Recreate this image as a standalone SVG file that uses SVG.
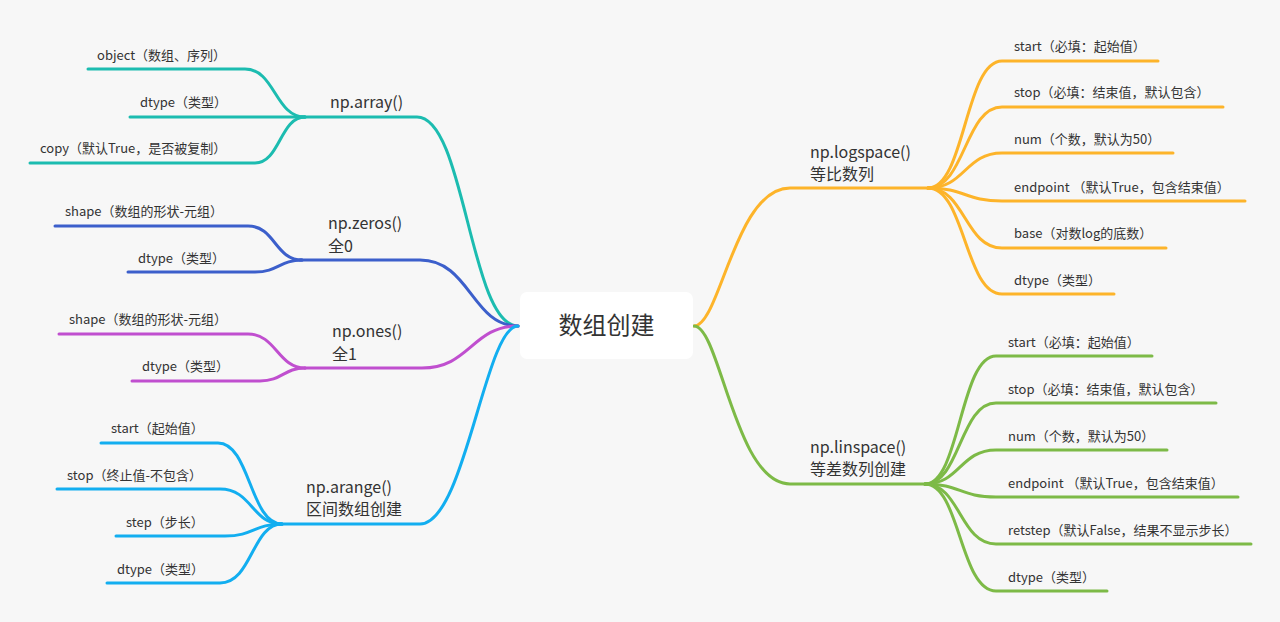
<svg xmlns="http://www.w3.org/2000/svg" width="1280" height="622" viewBox="0 0 1280 622">
<style>
text{font-family:"Noto Sans CJK SC","Noto Sans",sans-serif;fill:#333333}
.c{font-size:13px}
.m{font-size:16px}
.root{font-size:24px}
path{fill:none;stroke-width:3;stroke-linecap:round;stroke-linejoin:round}
.teal{stroke:#1CBCB0}
.blue{stroke:#3C5FCB}
.mag{stroke:#C04FCF}
.sky{stroke:#12AEF0}
.org{stroke:#FDB42A}
.grn{stroke:#7DBA47}
</style>
<rect x="0" y="0" width="1280" height="622" fill="#F7F7F7"/>
<g id="connectors">
<!-- center to main branches -->
<path class="teal" d="M300 117 L417 117 C465 117 470 326 518 326"/>
<path class="blue" d="M300 260 L420 260 C470 260 472 326 518 326"/>
<path class="mag" d="M305 368 L422 368 C470 368 472 326 518 326"/>
<path class="sky" d="M280 524 L420 524 C465 524 485 326 518 326"/>
<path class="org" d="M694 326 C720 326 735 188 790 188 L930 188"/>
<path class="grn" d="M694 326 C720 326 735 484 790 484 L927 484"/>
<!-- np.array children -->
<path class="teal" d="M88 69 L245 69 C275 69 275 117 305 117"/>
<path class="teal" d="M130 117 L305 117"/>
<path class="teal" d="M30 163 L255 163 C280 163 280 117 305 117"/>
<!-- np.zeros children -->
<path class="blue" d="M55 226 L248 226 C275 226 275 260 302 260"/>
<path class="blue" d="M128 272 L255 272 C278 272 280 260 302 260"/>
<!-- np.ones children -->
<path class="mag" d="M59 334 L248 334 C276 334 278 368 305 368"/>
<path class="mag" d="M132 381 L260 381 C282 381 284 368 305 368"/>
<!-- np.arange children -->
<path class="sky" d="M101 443 L218 443 C250 443 250 524 282 524"/>
<path class="sky" d="M57 489 L220 489 C252 489 252 524 282 524"/>
<path class="sky" d="M116 536 L225 536 C254 536 254 524 282 524"/>
<path class="sky" d="M107 583 L220 583 C252 583 252 524 282 524"/>
<!-- np.logspace children -->
<path class="org" d="M928 188 C965 188 965 61 1002 61 L1158 61"/>
<path class="org" d="M928 188 C965 188 965 107 1002 107 L1223 107"/>
<path class="org" d="M928 188 C965 188 965 153 1002 153 L1173 153"/>
<path class="org" d="M928 188 C965 188 965 201 1002 201 L1245 201"/>
<path class="org" d="M928 188 C965 188 965 248 1002 248 L1166 248"/>
<path class="org" d="M928 188 C965 188 965 294 1002 294 L1114 294"/>
<!-- np.linspace children -->
<path class="grn" d="M925 484 C960 484 960 356 996 356 L1152 356"/>
<path class="grn" d="M925 484 C960 484 960 403 996 403 L1216 403"/>
<path class="grn" d="M925 484 C960 484 960 450 996 450 L1167 450"/>
<path class="grn" d="M925 484 C960 484 960 497 996 497 L1238 497"/>
<path class="grn" d="M925 484 C960 484 960 544 996 544 L1251 544"/>
<path class="grn" d="M925 484 C960 484 960 591 996 591 L1107 591"/>
</g>
<g id="root">
<rect x="520" y="292" width="173" height="67" rx="7" fill="#FFFFFF"/>
<text class="root" x="606.5" y="334" text-anchor="middle">数组创建</text>
</g>
<g id="np-array"><text class="m" x="330" y="108">np.array()</text></g>
<g id="array-object"><text class="c" x="97" y="60">object（数组、序列）</text></g>
<g id="array-dtype"><text class="c" x="140" y="107">dtype（类型）</text></g>
<g id="array-copy"><text class="c" x="40" y="153">copy（默认True，是否被复制）</text></g>
<g id="np-zeros"><text class="m" x="328" y="229">np.zeros()</text><text class="m" x="328" y="252">全0</text></g>
<g id="zeros-shape"><text class="c" x="65" y="216">shape（数组的形状-元组）</text></g>
<g id="zeros-dtype"><text class="c" x="138" y="263">dtype（类型）</text></g>
<g id="np-ones"><text class="m" x="332" y="337">np.ones()</text><text class="m" x="332" y="360">全1</text></g>
<g id="ones-shape"><text class="c" x="69" y="324">shape（数组的形状-元组）</text></g>
<g id="ones-dtype"><text class="c" x="142" y="371">dtype（类型）</text></g>
<g id="np-arange"><text class="m" x="306" y="493">np.arange()</text><text class="m" x="306" y="515">区间数组创建</text></g>
<g id="arange-start"><text class="c" x="111" y="433">start（起始值）</text></g>
<g id="arange-stop"><text class="c" x="67" y="480">stop（终止值-不包含）</text></g>
<g id="arange-step"><text class="c" x="126" y="527">step（步长）</text></g>
<g id="arange-dtype"><text class="c" x="117" y="574">dtype（类型）</text></g>
<g id="np-logspace"><text class="m" x="810" y="158">np.logspace()</text><text class="m" x="810" y="180">等比数列</text></g>
<g id="log-start"><text class="c" x="1014" y="51">start（必填：起始值）</text></g>
<g id="log-stop"><text class="c" x="1014" y="97">stop（必填：结束值，默认包含）</text></g>
<g id="log-num"><text class="c" x="1014" y="144">num（个数，默认为50）</text></g>
<g id="log-endpoint"><text class="c" x="1014" y="192">endpoint （默认True，包含结束值）</text></g>
<g id="log-base"><text class="c" x="1014" y="238">base（对数log的底数）</text></g>
<g id="log-dtype"><text class="c" x="1014" y="285">dtype（类型）</text></g>
<g id="np-linspace"><text class="m" x="810" y="453">np.linspace()</text><text class="m" x="810" y="475">等差数列创建</text></g>
<g id="lin-start"><text class="c" x="1008" y="347">start（必填：起始值）</text></g>
<g id="lin-stop"><text class="c" x="1008" y="394">stop（必填：结束值，默认包含）</text></g>
<g id="lin-num"><text class="c" x="1008" y="441">num（个数，默认为50）</text></g>
<g id="lin-endpoint"><text class="c" x="1008" y="488">endpoint （默认True，包含结束值）</text></g>
<g id="lin-retstep"><text class="c" x="1008" y="535">retstep（默认False，结果不显示步长）</text></g>
<g id="lin-dtype"><text class="c" x="1008" y="582">dtype（类型）</text></g>
</svg>
